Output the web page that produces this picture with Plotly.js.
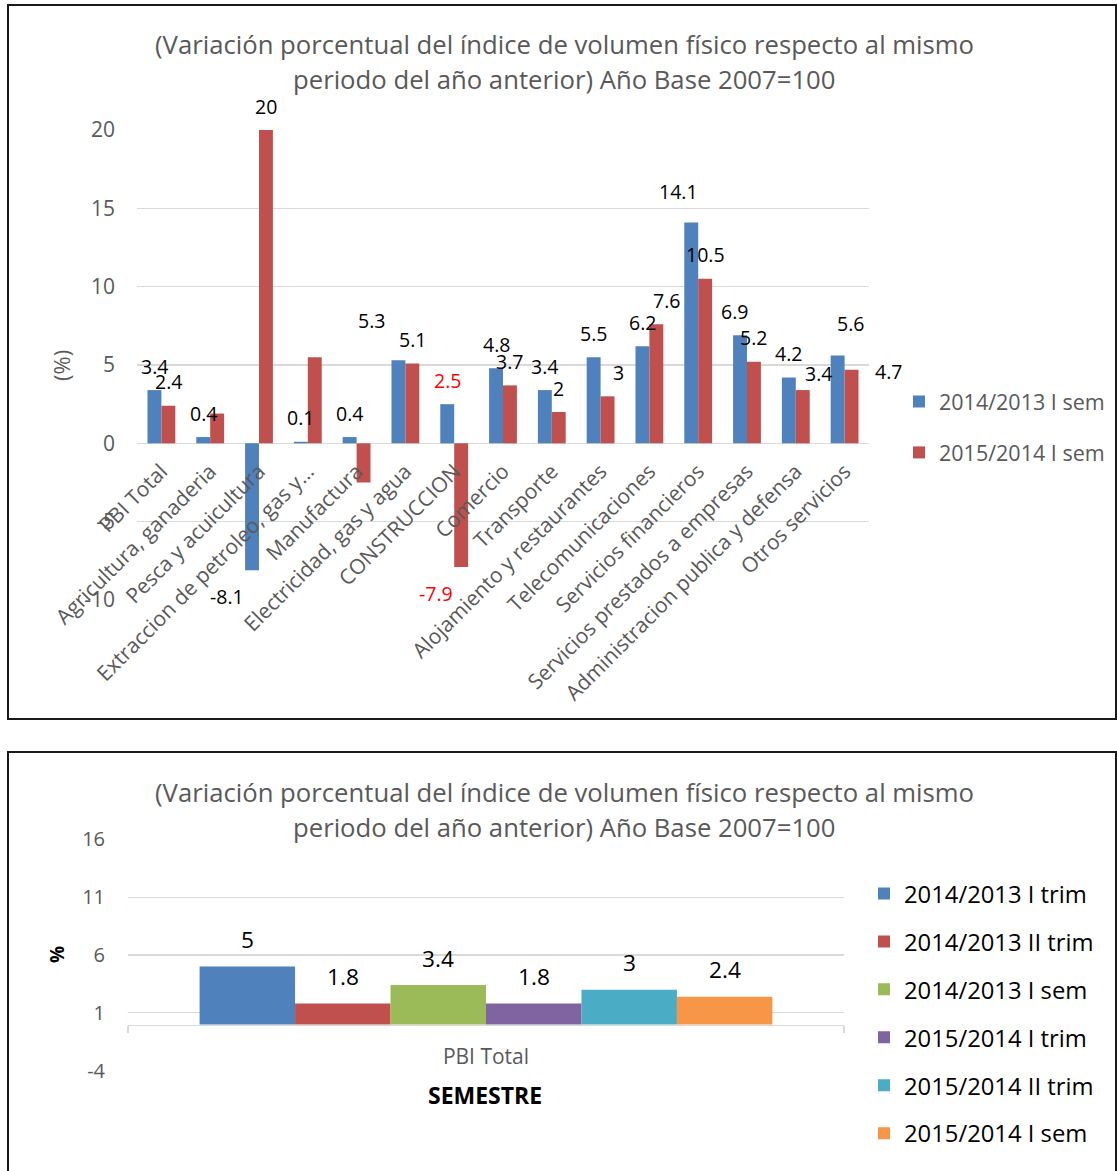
<!DOCTYPE html>
<html>
<head>
<meta charset="utf-8">
<script src="https://cdn.plot.ly/plotly-3.0.1.min.js"></script>
<style>html,body{margin:0;padding:0;background:#fff;}#chart{width:1117px;height:1171px;}</style>
</head>
<body>
<div id="chart"></div>
<script>
// ---------- DATA ----------
const titleLines = [
  '(Variación porcentual del índice de volumen físico respecto al mismo',
  'periodo del año anterior) Año Base 2007=100'
];
const sectors = ['PBI Total','Agricultura, ganaderia','Pesca y acuicultura','Extraccion de petroleo, gas y…','Manufactura','Electricidad, gas y agua','CONSTRUCCION','Comercio','Transporte','Alojamiento y restaurantes','Telecomunicaciones','Servicios financieros','Servicios prestados a empresas','Administracion publica y defensa','Otros servicios'];
const seriesNamesTop = ['2014/2013 I sem','2015/2014 I sem'];
const sem2014 = [3.4,0.4,-8.1,0.1,0.4,5.3,2.5,4.8,3.4,5.5,6.2,14.1,6.9,4.2,5.6];
const sem2015 = [2.4,1.9,20,5.5,-2.5,5.1,-7.9,3.7,2,3,7.6,10.5,5.2,3.4,4.7];
const unlabeled2015 = ['Agricultura, ganaderia','Extraccion de petroleo, gas y…','Manufactura'];
const highlightSector = 'CONSTRUCCION';
const topTickVals = [-10,-5,0,5,10,15,20];
const topTickText = ['-10','-5','0','5','10','15','20'];

const bottomCategory = ['PBI Total'];
const periods = ['2014/2013 I trim','2014/2013 II trim','2014/2013 I sem','2015/2014 I trim','2015/2014 II trim','2015/2014 I sem'];
const pbiValues = [5,1.8,3.4,1.8,3,2.4];
const bottomTickVals = [-4,1,6,11,16];
const bottomTickText = ['-4','1','6','11','16'];

// ---------- STYLE ----------
const FONT = 'Open Sans';
const GRAY = '#595959';
const GRID = '#D9D9D9';
const topColors = ['#4F81BD','#C0504D'];
const bottomColors = ['#4F81BD','#C0504D','#9BBB59','#8064A2','#4BACC6','#F79646'];
// manual label nudges (pixels, [right, down]) mirroring the reference's label layout
const labelNudges = [
  {'Electricidad, gas y agua':[-27,-16], 'Servicios financieros':[-13,-7], 'Servicios prestados a empresas':[-6,0], 'Otros servicios':[13,-8]},
  {'Alojamiento y restaurantes':[11,0], 'Telecomunicaciones':[10,0], 'Administracion publica y defensa':[16,7], 'Otros servicios':[37,26]}
];
const W = 1117, H = 1171;
const px = v => v / W;
const py = v => 1 - v / H;

const traces = [];
const annotations = [];

// top chart
[sem2014, sem2015].forEach((vals, s) => {
  traces.push({
    type: 'bar', x: sectors, y: vals, name: seriesNamesTop[s],
    xaxis: 'x', yaxis: 'y', legend: 'legend', legendgroup: 'top' + s,
    marker: {color: topColors[s], line: {width: 0}}
  });
  const half = (1 - 0.43) / 4;
  vals.forEach((v, i) => {
    if (s === 1 && unlabeled2015.includes(sectors[i])) return;
    const n = labelNudges[s][sectors[i]] || [0, 0];
    annotations.push({
      xref: 'x', yref: 'y', x: i + (s === 0 ? -half : half), y: v,
      yshift: (v >= 0 ? 24 : -26) - n[1], xshift: (v < 0 ? -25 : 0) + n[0],
      text: String(v), showarrow: false,
      font: {family: FONT, size: 19.5, color: sectors[i] === highlightSector ? '#FF0000' : '#000000'}
    });
  });
});

// bottom chart
const bw = 0.8 / periods.length;
periods.forEach((name, i) => {
  traces.push({
    type: 'bar', x: bottomCategory, y: [pbiValues[i]], name: name,
    xaxis: 'x2', yaxis: 'y2', legend: 'legend2', legendgroup: 'bot' + i,
    width: bw, offset: -0.4 + i * bw,
    marker: {color: bottomColors[i], line: {width: 0}}
  });
  annotations.push({
    xref: 'x2', yref: 'y2', x: -0.4 + (i + 0.5) * bw, y: pbiValues[i], yshift: 27,
    text: String(pbiValues[i]), showarrow: false,
    font: {family: FONT, size: 22.7, color: '#000000'}
  });
});

// titles
[[45, 80], [792, 827]].forEach(ys => {
  ys.forEach((yy, k) => annotations.push({
    xref: 'paper', yref: 'paper', x: px(564), y: py(yy), xanchor: 'center', yanchor: 'middle',
    text: titleLines[k], showarrow: false, font: {family: FONT, size: 25.7, color: GRAY}
  }));
});
// axis titles
annotations.push({xref:'paper', yref:'paper', x: px(61), y: py(366), textangle: -90, text: '(%)',
  showarrow:false, xanchor:'center', yanchor:'middle', font:{family:FONT, size:22, color:GRAY}});
annotations.push({xref:'paper', yref:'paper', x: px(57), y: py(955), textangle: -90, text: '<b>%</b>',
  showarrow:false, xanchor:'center', yanchor:'middle', font:{family:FONT, size:19, color:'#000'}});
annotations.push({xref:'paper', yref:'paper', x: px(485), y: py(1095), text: '<b>SEMESTRE</b>',
  showarrow:false, xanchor:'center', yanchor:'middle', font:{family:FONT, size:23, color:'#000'}});

const layout = {
  width: W, height: H, margin: {l:0, r:0, t:0, b:0},
  paper_bgcolor: '#fff', plot_bgcolor: 'rgba(0,0,0,0)',
  barmode: 'group', bargap: 0.43, bargroupgap: 0,
  font: {family: FONT, color: GRAY},
  xaxis: {domain: [px(137), px(869)], anchor: 'free', position: py(443), type: 'category',
    range: [-0.5, sectors.length - 0.5], autorange: false,
    tickangle: -45, tickfont: {family: FONT, size: 21, color: GRAY}, showgrid: false,
    showline: false, zeroline: false, ticks: '', ticklabelstandoff: 11, fixedrange: true},
  yaxis: {domain: [py(600), py(130)], anchor: 'x', range: [-10, 20], autorange: false, tickvals: topTickVals, ticktext: topTickText,
    showgrid: true, gridcolor: GRID, gridwidth: 1.3, zeroline: true, zerolinecolor: GRID, zerolinewidth: 1.3,
    showline: false, ticks: '', tickfont: {family: FONT, size: 21, color: GRAY}, ticklabelstandoff: 21},
  xaxis2: {domain: [px(128), px(844)], anchor: 'free', position: py(1024.5), type: 'category',
    range: [-0.5, 0.5], autorange: false, tickfont: {family: FONT, size: 21, color: GRAY}, showgrid: false,
    showline: true, linecolor: GRID, linewidth: 1.5, zeroline: false,
    ticks: 'outside', tickson: 'boundaries', ticklen: 7, tickcolor: GRID, tickwidth: 1.5, ticklabelstandoff: 13},
  yaxis2: {domain: [py(1070.7), py(839.3)], anchor: 'x2', range: [-4, 16], autorange: false, tickvals: bottomTickVals, ticktext: bottomTickText,
    showgrid: true, gridcolor: GRID, gridwidth: 1.3, zeroline: false, showline: false, ticks: '',
    tickfont: {family: FONT, size: 20, color: GRAY}, ticklabelstandoff: 22},
  legend: {x: px(899), y: py(381), xanchor: 'left', yanchor: 'top', bgcolor: 'rgba(0,0,0,0)',
    font: {family: FONT, size: 21.5, color: GRAY}, traceorder: 'grouped', tracegroupgap: 20},
  legend2: {x: px(864), y: py(871.5), xanchor: 'left', yanchor: 'top', bgcolor: 'rgba(0,0,0,0)',
    font: {family: FONT, size: 23.8, color: '#000'}, traceorder: 'grouped', tracegroupgap: 14},
  annotations: annotations,
  shapes: [
    {type:'rect', xref:'paper', yref:'paper', x0: px(8), x1: px(1116), y0: py(719), y1: py(5), line:{color:'#1a1a1a', width:2}},
    {type:'rect', xref:'paper', yref:'paper', x0: px(8), x1: px(1116), y0: py(1185), y1: py(752), line:{color:'#1a1a1a', width:2}}
  ],
  showlegend: true
};

Plotly.newPlot('chart', traces, layout, {staticPlot: true, displayModeBar: false});
</script>
</body>
</html>
